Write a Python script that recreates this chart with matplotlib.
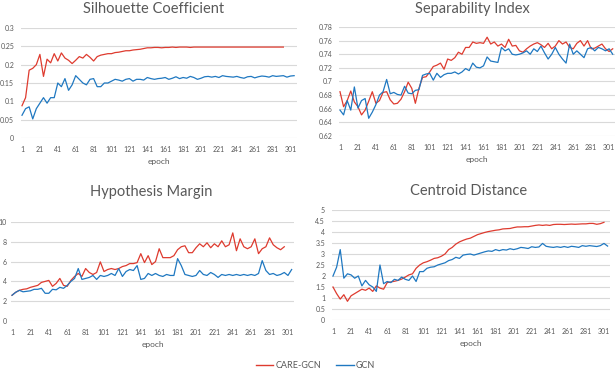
import matplotlib
matplotlib.use("Agg")
import matplotlib.pyplot as plt
from matplotlib.ticker import FormatStrFormatter
import numpy as np

plt.rcParams['font.family'] = ['Lato', 'DejaVu Sans']

# epochs sampled every 4 epochs
epochs = np.arange(1, 306, 4)
xticks = np.arange(1, 302, 20)

sil_care = [0.088, 0.11, 0.185, 0.19, 0.2, 0.228, 0.168, 0.215, 0.205, 0.23,
            0.21, 0.232, 0.218, 0.212, 0.203, 0.212, 0.222, 0.218, 0.228, 0.22,
            0.21, 0.222, 0.226, 0.228, 0.23, 0.23, 0.233, 0.234, 0.236, 0.238,
            0.238, 0.24, 0.241, 0.242, 0.244, 0.246, 0.246, 0.247, 0.247, 0.246,
            0.247, 0.247, 0.248, 0.247, 0.248, 0.248, 0.248, 0.247, 0.248, 0.248,
            0.248, 0.248, 0.248, 0.248, 0.248, 0.248, 0.248, 0.248, 0.248, 0.248,
            0.248, 0.248, 0.248, 0.248, 0.248, 0.248, 0.248, 0.248, 0.248, 0.248,
            0.248, 0.248, 0.248, 0.248]
sil_gcn = [0.062, 0.08, 0.085, 0.052, 0.08, 0.095, 0.11, 0.095, 0.11, 0.11,
           0.15, 0.14, 0.162, 0.13, 0.145, 0.17, 0.16, 0.15, 0.145, 0.16,
           0.162, 0.14, 0.14, 0.15, 0.15, 0.155, 0.16, 0.158, 0.155, 0.16,
           0.162, 0.155, 0.16, 0.16, 0.158, 0.165, 0.162, 0.16, 0.162, 0.163,
           0.165, 0.16, 0.163, 0.167, 0.162, 0.165, 0.163, 0.168, 0.165, 0.16,
           0.163, 0.167, 0.168, 0.166, 0.168, 0.165, 0.17, 0.168, 0.167, 0.166,
           0.168, 0.165, 0.163, 0.167, 0.168, 0.164, 0.167, 0.169, 0.168, 0.166,
           0.17, 0.168, 0.169, 0.17, 0.166, 0.169, 0.17]

sep_care = [0.685, 0.663, 0.672, 0.686, 0.67, 0.663, 0.651, 0.658, 0.671, 0.685,
            0.668, 0.672, 0.684, 0.685, 0.673, 0.667, 0.668, 0.674, 0.685, 0.699,
            0.69, 0.668, 0.69, 0.706, 0.707, 0.714, 0.722, 0.724, 0.727, 0.718,
            0.733, 0.731, 0.735, 0.743, 0.74, 0.75, 0.75, 0.758, 0.756, 0.757,
            0.756, 0.765, 0.755, 0.758, 0.752, 0.755, 0.75, 0.762, 0.752, 0.753,
            0.745, 0.743, 0.748, 0.752, 0.755, 0.757, 0.754, 0.75, 0.756, 0.748,
            0.752, 0.76, 0.755, 0.758, 0.75, 0.748, 0.756, 0.76, 0.752, 0.76,
            0.748, 0.749, 0.752, 0.755, 0.748, 0.744, 0.748]
sep_gcn = [0.658, 0.651, 0.672, 0.658, 0.692, 0.661, 0.672, 0.675, 0.646, 0.655,
           0.666, 0.68, 0.685, 0.703, 0.682, 0.684, 0.681, 0.68, 0.693, 0.683,
           0.682, 0.687, 0.688, 0.709, 0.711, 0.712, 0.702, 0.712, 0.706, 0.71,
           0.712, 0.712, 0.714, 0.711, 0.714, 0.719, 0.716, 0.727, 0.721, 0.72,
           0.723, 0.736, 0.73, 0.729, 0.728, 0.75, 0.745, 0.748, 0.74, 0.739,
           0.74, 0.742, 0.745, 0.74, 0.748, 0.744, 0.752, 0.742, 0.733, 0.74,
           0.75, 0.74, 0.733, 0.727, 0.755, 0.74, 0.745, 0.74, 0.735, 0.748,
           0.75, 0.745, 0.75, 0.748, 0.745, 0.748, 0.74]

hyp_care = [2.6, 2.9, 3.1, 3.2, 3.25, 3.4, 3.5, 3.6, 3.9, 4.0,
            4.1, 3.5, 3.8, 4.3, 3.6, 3.5, 4.1, 4.5, 4.8, 4.5,
            5.3, 4.9, 4.7, 4.9, 5.97, 5.0, 5.2, 5.3, 5.2, 5.3,
            5.5, 5.6, 5.8, 5.8, 5.9, 6.8, 5.9, 6.6, 5.7, 6.0,
            7.3, 6.4, 6.4, 6.4, 6.6, 7.2, 7.5, 7.6, 6.9, 6.9,
            7.4, 7.8, 7.5, 7.9, 7.4, 7.8, 7.5, 8.1, 7.5, 7.7,
            8.9, 7.1, 8.3, 7.5, 7.3, 7.5, 8.3, 6.8, 7.3, 7.5,
            8.4, 7.7, 7.4, 7.2, 7.5]
hyp_gcn = [2.6, 2.9, 3.1, 2.95, 3.0, 3.05, 3.2, 3.2, 3.3, 2.8,
           2.8, 3.2, 3.15, 3.4, 3.3, 3.6, 4.0, 4.3, 5.3, 4.2,
           4.3, 4.4, 4.6, 4.2, 4.6, 4.5, 4.6, 4.8, 4.6, 5.3,
           4.5, 5.0, 5.2, 5.1, 5.6, 4.2, 4.3, 4.8, 4.6, 4.8,
           4.6, 4.5, 4.7, 4.6, 4.6, 6.3, 5.6, 4.7, 4.6, 4.5,
           4.6, 5.1, 4.7, 4.6, 4.9, 4.7, 4.4, 4.7, 4.6, 4.7,
           4.6, 4.7, 4.6, 4.7, 4.6, 4.7, 4.6, 4.8, 6.1, 5.1,
           4.7, 4.8, 4.6, 4.7, 4.9, 4.6, 5.2]

cen_care = [1.5, 1.2, 0.95, 1.15, 0.85, 1.1, 1.2, 1.3, 1.4, 1.35,
            1.45, 1.3, 1.55, 1.45, 1.4, 1.7, 1.73, 1.76, 1.8, 1.86,
            1.95, 2.05, 2.1, 2.35, 2.5, 2.6, 2.65, 2.72, 2.8, 2.83,
            2.9, 3.0, 3.2, 3.3, 3.45, 3.55, 3.62, 3.68, 3.72, 3.8,
            3.88, 3.93, 3.98, 4.02, 4.05, 4.08, 4.1, 4.14, 4.15, 4.16,
            4.2, 4.23, 4.23, 4.24, 4.24, 4.27, 4.3, 4.32, 4.3, 4.32,
            4.3, 4.34, 4.35, 4.35, 4.34, 4.35, 4.36, 4.35, 4.36, 4.37,
            4.37, 4.39, 4.39, 4.35, 4.38, 4.44]
cen_gcn = [2.0, 2.4, 3.2, 1.9, 2.1, 2.05, 1.9, 2.0, 1.55, 1.8,
           1.6, 1.5, 1.3, 2.5, 1.65, 1.75, 1.7, 1.85, 1.8, 1.95,
           1.85, 1.8, 2.0, 1.75, 2.2, 2.2, 2.35, 2.4, 2.42, 2.5,
           2.55, 2.6, 2.7, 2.75, 2.85, 2.8, 2.95, 2.98, 3.0, 2.95,
           3.0, 3.05, 3.1, 3.14, 3.12, 3.2, 3.15, 3.2, 3.18, 3.24,
           3.2, 3.24, 3.3, 3.28, 3.25, 3.33, 3.3, 3.32, 3.48, 3.35,
           3.32, 3.3, 3.33, 3.3, 3.34, 3.3, 3.35, 3.33, 3.3, 3.38,
           3.35, 3.38, 3.36, 3.34, 3.38, 3.48, 3.36]

RED = '#DE3B2F'
BLUE = '#1F78C1'
GRID = '#D9D9D9'
TXT = '#595959'

fig = plt.figure(figsize=(6.16, 3.70), dpi=100)
W, H = 616.0, 370.0


def make_ax(left, right, top, bottom):
    return fig.add_axes([left / W, 1 - bottom / H, (right - left) / W, (bottom - top) / H])


panels = [
    # title, care, gcn, ylim, ystep, axes box (px), title pos (px), ypad
    ("Silhouette Coefficient", sil_care, sil_gcn, (0, 0.3), 0.05, (21.1, 296.8, 28, 138), (153.5, 12.7), 5),
    ("Separability Index", sep_care, sep_gcn, (0.62, 0.78), 0.02, (339.1, 615.4, 27, 136), (472.5, 12.7), 4.5),
    ("Hypothesis Margin", hyp_care, hyp_gcn, (0, 10), 2, (11.1, 294.4, 222, 321), (151.5, 196), 3),
    ("Centroid Distance", cen_care, cen_gcn, (0, 5), 0.5, (332.1, 610.3, 210, 320), (468.5, 195), 5),
]

for title, care, gcn, ylim, ystep, box, tpos, ypad in panels:
    ax = make_ax(*box)
    ax.plot(epochs[:len(care)], care, color=RED, lw=0.9, zorder=3)
    ax.plot(epochs[:len(gcn)], gcn, color=BLUE, lw=0.9, zorder=3)
    ax.set_xlim(0, 308)
    ax.set_ylim(*ylim)
    ax.set_xticks(xticks)
    ax.set_yticks(np.arange(ylim[0], ylim[1] + ystep / 2, ystep))
    ax.yaxis.set_major_formatter(FormatStrFormatter('%g'))
    ax.grid(axis='y', color=GRID, lw=0.8)
    ax.set_axisbelow(True)
    for s in ax.spines.values():
        s.set_visible(False)
    ax.tick_params(axis='x', length=0, pad=5.5, labelsize=5, labelcolor=TXT)
    ax.tick_params(axis='y', length=0, pad=ypad, labelsize=5, labelcolor=TXT)
    ax.set_xlabel('epoch', fontsize=6, color=TXT, labelpad=4)
    fig.text(tpos[0] / W, 1 - tpos[1] / H, title, ha='center', va='baseline',
             fontsize=10.5, color=TXT)

handles = [plt.Line2D([], [], color=RED, lw=1), plt.Line2D([], [], color=BLUE, lw=1)]
fig.legend(handles, ['CARE-GCN', 'GCN'], loc='center', bbox_to_anchor=(315.5 / W, 1 - 366 / H),
           ncol=2, frameon=False, fontsize=6.5, handlelength=1.9, handletextpad=0.2,
           columnspacing=1.7, labelcolor=TXT, borderpad=0)

fig.savefig('out.png', dpi=100)
